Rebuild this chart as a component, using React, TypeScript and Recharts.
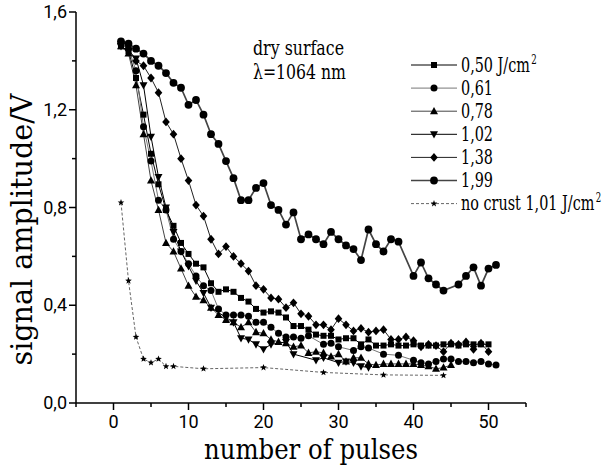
import { LineChart, Line, XAxis, YAxis, Legend } from 'recharts';

// [pulse, amplitude] pairs
const s050: [number, number][] = [[1,1.46],[2,1.44],[3,1.33],[4,1.18],[5,1.02],[6,0.895],[7,0.79],[8,0.725],[9,0.655],[10,0.61],[11,0.57],[12,0.555],[13,0.49],[14,0.455],[15,0.465],[16,0.455],[17,0.43],[18,0.415],[19,0.385],[20,0.37],[21,0.375],[22,0.37],[23,0.35],[24,0.315],[25,0.315],[26,0.3],[27,0.28],[28,0.275],[29,0.275],[30,0.26],[31,0.265],[32,0.265],[33,0.24],[34,0.26],[35,0.235],[36,0.235],[37,0.24],[38,0.235],[39,0.235],[40,0.24],[41,0.235],[42,0.235],[43,0.235],[44,0.24],[45,0.24],[46,0.235],[47,0.24],[48,0.24],[49,0.24],[50,0.24]];
const s061: [number, number][] = [[1,1.47],[2,1.45],[3,1.36],[4,1.13],[5,0.99],[6,0.83],[7,0.79],[8,0.67],[9,0.62],[10,0.57],[11,0.52],[12,0.48],[13,0.46],[14,0.385],[15,0.36],[16,0.36],[17,0.36],[18,0.355],[19,0.33],[20,0.33],[21,0.31],[22,0.285],[23,0.27],[24,0.27],[25,0.265],[26,0.275],[28,0.24],[29,0.245],[30,0.23],[32,0.215],[33,0.23],[34,0.225],[36,0.2],[38,0.195],[40,0.175],[41,0.165],[42,0.16],[43,0.17],[44,0.18],[45,0.18],[46,0.17],[47,0.17],[48,0.165],[49,0.17],[50,0.16],[51,0.155]];
const s078: [number, number][] = [[1,1.46],[2,1.43],[3,1.3],[4,1.1],[5,0.91],[6,0.79],[7,0.655],[8,0.62],[9,0.55],[10,0.48],[11,0.435],[12,0.42],[13,0.39],[14,0.36],[15,0.34],[16,0.33],[17,0.31],[18,0.33],[19,0.29],[20,0.285],[21,0.26],[22,0.25],[23,0.245],[24,0.23],[25,0.235],[26,0.205],[27,0.21],[28,0.205],[29,0.19],[30,0.2],[31,0.17],[32,0.185],[33,0.185],[34,0.16],[35,0.155],[36,0.16],[37,0.16],[38,0.16],[39,0.16],[40,0.16],[41,0.155],[42,0.15],[43,0.14],[44,0.145],[45,0.155]];
const s102: [number, number][] = [[1,1.46],[2,1.44],[3,1.41],[4,1.3],[5,1.09],[6,0.925],[7,0.8],[8,0.7],[9,0.62],[10,0.56],[11,0.5],[12,0.45],[13,0.39],[16,0.33],[17,0.265],[18,0.26],[19,0.24],[20,0.22],[21,0.24],[23,0.25],[24,0.2],[27,0.175],[28,0.185],[30,0.165],[31,0.17],[32,0.165],[33,0.15],[34,0.145]];
const s138: [number, number][] = [[1,1.47],[2,1.45],[3,1.4],[4,1.38],[5,1.33],[6,1.27],[7,1.15],[8,1.1],[9,1.0],[10,0.91],[11,0.81],[12,0.765],[13,0.67],[14,0.61],[15,0.64],[16,0.6],[17,0.57],[18,0.54],[19,0.48],[20,0.465],[21,0.43],[22,0.425],[23,0.39],[24,0.41],[25,0.365],[26,0.355],[27,0.32],[28,0.32],[29,0.3],[30,0.345],[31,0.32],[32,0.295],[33,0.305],[34,0.29],[35,0.295],[36,0.3],[37,0.26],[38,0.26],[39,0.27],[40,0.255],[41,0.23],[42,0.24],[43,0.235],[44,0.21],[45,0.245],[46,0.24],[47,0.25],[48,0.22],[49,0.245],[50,0.21]];
const s199: [number, number][] = [[1,1.48],[2,1.47],[3,1.45],[4,1.43],[5,1.4],[6,1.38],[7,1.35],[8,1.31],[9,1.29],[10,1.22],[11,1.24],[12,1.18],[13,1.1],[14,1.06],[15,0.99],[16,0.92],[17,0.83],[18,0.83],[19,0.88],[20,0.9],[21,0.81],[22,0.79],[23,0.73],[24,0.78],[25,0.67],[26,0.69],[27,0.67],[28,0.65],[29,0.7],[30,0.67],[31,0.645],[32,0.63],[33,0.585],[34,0.71],[35,0.65],[36,0.62],[37,0.67],[38,0.66],[40,0.52],[41,0.575],[42,0.51],[43,0.485],[44,0.46],[46,0.485],[47,0.52],[48,0.555],[49,0.48],[50,0.55],[51,0.565]];
const sNoCrust: [number, number][] = [[1,0.82],[2,0.5],[3,0.27],[4,0.18],[5,0.165],[6,0.18],[7,0.15],[8,0.15],[12,0.14],[20,0.145],[28,0.125],[36,0.115],[44,0.113]];

const xTicks = [-5, 0, 5, 10, 15, 20, 25, 30, 35, 40, 45, 50, 55];
const xLabels = [0, 10, 20, 30, 40, 50];
const yTicks = [0, 0.2, 0.4, 0.6, 0.8, 1.0, 1.2, 1.4, 1.6];
const yLabels = [0, 0.4, 0.8, 1.2, 1.6];

// Liberation fonts did not resolve in the sandbox; DejaVu Serif squeezed to Times-like widths
const serif = "'DejaVu Serif', serif";
const sans = "'Roboto', 'DejaVu Sans', sans-serif";

type MarkerKind = 'square' | 'circle' | 'bigcircle' | 'up' | 'down' | 'diamond' | 'star';

function Marker({ kind, cx, cy }: { kind: MarkerKind; cx: number; cy: number }) {
  if (cx == null || cy == null) return null;
  switch (kind) {
    case 'square':
      return <rect x={cx - 3} y={cy - 3} width={6} height={6} fill="#000" />;
    case 'circle':
      return <circle cx={cx} cy={cy} r={3.5} fill="#000" />;
    case 'bigcircle':
      return <circle cx={cx} cy={cy} r={3.9} fill="#000" />;
    case 'up':
      return <polygon points={`${cx},${cy - 4.3} ${cx - 4},${cy + 3} ${cx + 4},${cy + 3}`} fill="#000" />;
    case 'down':
      return <polygon points={`${cx},${cy + 4.3} ${cx - 4},${cy - 3} ${cx + 4},${cy - 3}`} fill="#000" />;
    case 'diamond':
      return <polygon points={`${cx},${cy - 4.4} ${cx + 3.8},${cy} ${cx},${cy + 4.4} ${cx - 3.8},${cy}`} fill="#000" />;
    case 'star': {
      const pts: string[] = [];
      for (let i = 0; i < 10; i++) {
        const r = i % 2 === 0 ? 3.5 : 1.5;
        const a = -Math.PI / 2 + (i * Math.PI) / 5;
        pts.push(`${cx + r * Math.cos(a)},${cy + r * Math.sin(a)}`);
      }
      return <polygon points={pts.join(' ')} fill="#000" />;
    }
  }
  return null;
}

interface SeriesDef {
  name: string;
  label: string;
  unit?: boolean;
  data: [number, number][];
  color: string;
  width: number;
  dash?: string;
  marker: MarkerKind;
}

const series: SeriesDef[] = [
  { name: '0,50', label: '0,50 J/cm', unit: true, data: s050, color: '#000', width: 1, marker: 'square' },
  { name: '0,61', label: '0,61', data: s061, color: '#777', width: 1, marker: 'circle' },
  { name: '0,78', label: '0,78', data: s078, color: '#444', width: 1, marker: 'up' },
  { name: '1,02', label: '1,02', data: s102, color: '#000', width: 1, marker: 'down' },
  { name: '1,38', label: '1,38', data: s138, color: '#222', width: 1, marker: 'diamond' },
  { name: '1,99', label: '1,99', data: s199, color: '#444', width: 1.7, marker: 'bigcircle' },
  { name: 'no crust', label: 'no crust 1,01 J/cm', unit: true, data: sNoCrust, color: '#666', width: 1, dash: '3 2', marker: 'star' },
];

const toRows = (pairs: [number, number][]) => pairs.map(([x, v]) => ({ x, v }));

const fmt = (v: number) => v.toFixed(1).replace('.', ',');

const XTick = (props: any) => {
  const { x, y, payload } = props;
  const major = xLabels.includes(payload.value);
  return (
    <g>
      <line x1={x} y1={y} x2={x} y2={y + (major ? 7 : 4)} stroke="#000" strokeWidth={1.5} />
      {major && (
        <text x={x} y={y + 25} textAnchor="middle" style={{ fontFamily: sans, fontSize: 18 }} fill="#000">
          {payload.value}
        </text>
      )}
    </g>
  );
};

const YTick = (props: any) => {
  const { x, y, payload } = props;
  const major = yLabels.some((v) => Math.abs(v - payload.value) < 1e-6);
  return (
    <g>
      <line x1={x - (major ? 7 : 4)} y1={y} x2={x} y2={y} stroke="#000" strokeWidth={1.5} />
      {major && (
        <text x={x - 9} y={y + 6} textAnchor="end" style={{ fontFamily: sans, fontSize: 18 }} fill="#000">
          {fmt(payload.value)}
        </text>
      )}
    </g>
  );
};

const LegendBox = () => (
  <svg width={200} height={170} style={{ overflow: 'visible' }}>
    {series.map((s, i) => {
      const y = 15 + i * 23.1;
      return (
        <g key={s.name}>
          <line x1={6} y1={y} x2={52} y2={y} stroke={s.color} strokeWidth={s.width} strokeDasharray={s.dash} />
          <Marker kind={s.marker} cx={29} cy={y} />
          <g transform={`translate(56 ${y + 6.5}) scale(0.72 1)`}>
            <text x={0} y={0} style={{ fontFamily: serif, fontSize: 20 }} fill="#000">
              {s.label}
              {s.unit && (
                <tspan dx={2} dy={-8} style={{ fontSize: 12 }}>
                  2
                </tspan>
              )}
            </text>
          </g>
        </g>
      );
    })}
  </svg>
);

export default function App() {
  return (
    <div style={{ position: 'fixed', left: 0, top: 0, width: 607, height: 466, overflow: 'hidden', background: '#fff' }}>
      <LineChart width={607} height={466} margin={{ top: 12, right: 81, bottom: 0, left: 16 }}>
        <XAxis
          type="number"
          dataKey="x"
          domain={[-5, 55]}
          ticks={xTicks}
          interval={0}
          height={63}
          tickSize={0}
          tickMargin={0}
          tick={<XTick />}
          axisLine={{ stroke: '#000', strokeWidth: 1.5 }}
          label={{
            content: (p: any) => {
              const vb = p.viewBox;
              const w = 214;
              return (
                <text
                  x={vb.x + vb.width / 2 + 10 - w / 2}
                  y={vb.y + 56}
                  textLength={w}
                  lengthAdjust="spacingAndGlyphs"
                  style={{ fontFamily: serif, fontSize: 28 }}
                  fill="#000"
                >
                  number of pulses
                </text>
              );
            },
          }}
        />
        <YAxis
          type="number"
          domain={[0, 1.6]}
          ticks={yTicks}
          interval={0}
          width={60}
          tickSize={0}
          tickMargin={0}
          tick={<YTick />}
          axisLine={{ stroke: '#000', strokeWidth: 1.5 }}
          label={{
            content: (p: any) => {
              const vb = p.viewBox;
              const w = 272;
              const cx = vb.x + 16;
              const cy = vb.y + vb.height / 2 + 22;
              return (
                <text
                  x={cx - w / 2}
                  y={cy}
                  transform={`rotate(-90 ${cx} ${cy})`}
                  textLength={w}
                  lengthAdjust="spacingAndGlyphs"
                  style={{ fontFamily: serif, fontSize: 30 }}
                  fill="#000"
                >
                  signal amplitude/V
                </text>
              );
            },
          }}
        />
        <Legend
          layout="vertical"
          align="center"
          verticalAlign="middle"
          content={() => <LegendBox />}
          wrapperStyle={{ position: 'absolute', left: 405, top: 50, width: 200, height: 170 }}
        />
        {series.map((s) => (
          <Line
            key={s.name}
            name={s.name}
            data={toRows(s.data)}
            dataKey="v"
            type="linear"
            stroke={s.color}
            strokeWidth={s.width}
            strokeDasharray={s.dash}
            isAnimationActive={false}
            dot={(p: any) => <Marker key={`${s.name}-${p.index}`} kind={s.marker} cx={p.cx} cy={p.cy} />}
            activeDot={false}
          />
        ))}
      </LineChart>
      <svg width={607} height={466} style={{ position: 'absolute', left: 0, top: 0, pointerEvents: 'none' }}>
        <text x={253} y={55} textLength={91} lengthAdjust="spacingAndGlyphs" style={{ fontFamily: serif, fontSize: 21 }} fill="#000">dry surface</text>
        <text x={253} y={79} textLength={93} lengthAdjust="spacingAndGlyphs" style={{ fontFamily: serif, fontSize: 21 }} fill="#000">λ=1064 nm</text>
      </svg>
    </div>
  );
}
